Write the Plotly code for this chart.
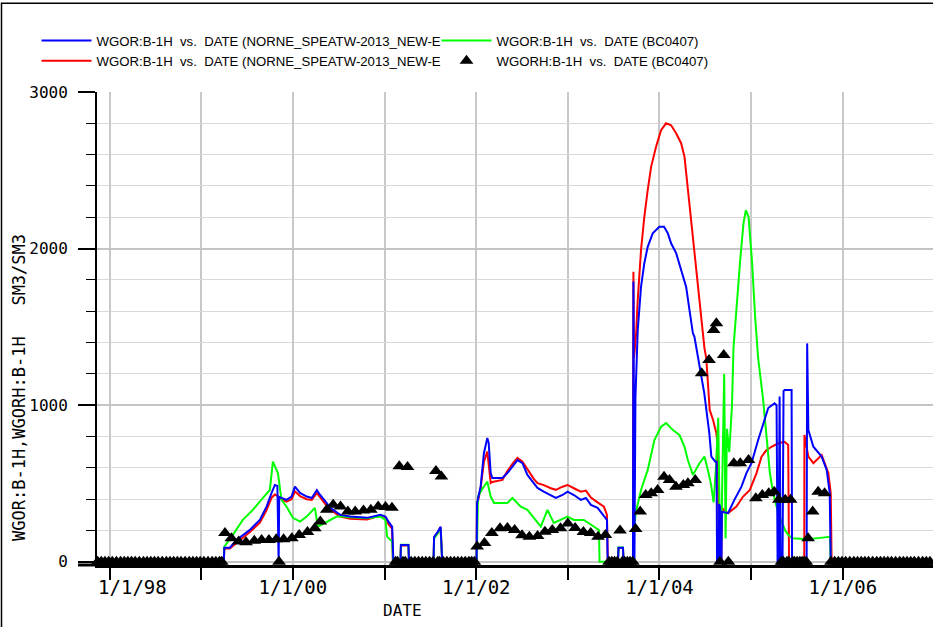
import datetime as dt
import plotly.graph_objects as go

# ---------------- data (decimal years, SM3/SM3) ----------------
SIM1_T = [1997.86, 1999.247, 1999.253, 1999.313, 1999.386, 1999.532, 1999.641, 1999.714, 1999.769, 1999.805,
          1999.832, 1999.838, 1999.846, 1999.852, 1999.877, 1999.932, 1999.987, 2000.024, 2000.079, 2000.152,
          2000.207, 2000.262, 2000.298, 2000.352, 2000.385, 2000.440, 2000.517, 2000.626, 2000.809, 2000.954,
          2001.009, 2001.042, 2001.082, 2001.096, 2001.173, 2001.178, 2001.260, 2001.266, 2001.534, 2001.540,
          2001.578, 2001.611, 2001.629, 2002.004, 2002.009, 2002.048, 2002.084, 2002.121, 2002.136, 2002.158,
          2002.176, 2002.286, 2002.340, 2002.395, 2002.450, 2002.505, 2002.559, 2002.628, 2002.669, 2002.737,
          2002.814, 2002.869, 2002.942, 2002.997, 2003.066, 2003.142, 2003.197, 2003.252, 2003.325, 2003.394,
          2003.427, 2003.435, 2003.547, 2003.553, 2003.602, 2003.608, 2003.711, 2003.716, 2003.727, 2003.738,
          2003.763, 2003.799, 2003.835, 2003.872, 2003.927, 2003.999, 2004.050, 2004.091, 2004.127, 2004.182,
          2004.236, 2004.291, 2004.324, 2004.364, 2004.381, 2004.436, 2004.488, 2004.543, 2004.565, 2004.609,
          2004.622, 2004.627, 2004.645, 2004.650, 2004.660, 2004.665, 2004.675, 2004.680, 2004.747, 2004.816,
          2004.893, 2004.947, 2005.002, 2005.075, 2005.130, 2005.185, 2005.254, 2005.276, 2005.287, 2005.298,
          2005.309, 2005.320, 2005.341, 2005.352, 2005.363, 2005.440, 2005.445, 2005.604, 2005.610, 2005.618,
          2005.623, 2005.678, 2005.768, 2005.823, 2005.856, 2005.867, 2007.0]
SIM1_V = [0, 0, 90, 90, 140, 204, 268, 353, 440, 491,
          485, 0, 0, 415, 408, 396, 417, 480, 440, 417,
          408, 459, 427, 385, 364, 332, 300, 289, 281, 300,
          289, 257, 225, 0, 0, 108, 108, 0, 0, 160,
          190, 225, 0, 0, 376, 480, 694, 791, 759, 567,
          535, 535, 567, 608, 650, 630, 555, 503, 472, 448,
          427, 408, 427, 448, 427, 396, 408, 364, 345, 289,
          268, 0, 0, 90, 90, 0, 0, 1790, 0, 1050,
          1480, 1756, 1907, 2011, 2098, 2139, 2139, 2098, 2034, 1971,
          1863, 1756, 1620, 1461, 1437, 1246, 1077, 822, 672, 640,
          640, 0, 0, 370, 350, 0, 0, 320, 311, 396,
          480, 567, 630, 778, 886, 982, 1013, 1000, 0, 0,
          1055, 0, 0, 1090, 1097, 1097, 0, 0, 1395, 900,
          842, 735, 672, 587, 440, 0, 0]

SIM2_T = [1997.86, 1999.247, 1999.253, 1999.313, 1999.386, 1999.532, 1999.641, 1999.714, 1999.769, 1999.805,
          1999.838, 1999.877, 1999.932, 1999.987, 2000.024, 2000.079, 2000.152, 2000.207, 2000.262, 2000.298,
          2000.352, 2000.385, 2000.440, 2000.517, 2000.626, 2000.809, 2000.954, 2001.009, 2001.042, 2001.082,
          2001.090, 2001.173, 2001.178, 2001.260, 2001.266, 2001.534, 2001.540, 2001.578, 2001.611, 2001.629,
          2002.004, 2002.009, 2002.048, 2002.084, 2002.121, 2002.158, 2002.176, 2002.286, 2002.340, 2002.395,
          2002.450, 2002.505, 2002.559, 2002.628, 2002.669, 2002.737, 2002.814, 2002.869, 2002.942, 2002.997,
          2003.066, 2003.142, 2003.197, 2003.252, 2003.325, 2003.394, 2003.427, 2003.437, 2003.547, 2003.553,
          2003.602, 2003.608, 2003.711, 2003.716, 2003.722, 2003.745, 2003.763, 2003.799, 2003.835, 2003.872,
          2003.909, 2003.963, 2004.018, 2004.072, 2004.127, 2004.182, 2004.236, 2004.273, 2004.302, 2004.327,
          2004.364, 2004.400, 2004.436, 2004.473, 2004.490, 2004.510, 2004.547, 2004.584, 2004.619, 2004.637,
          2004.645, 2004.674, 2004.680, 2004.747, 2004.838, 2004.911, 2004.984, 2005.057, 2005.112, 2005.166,
          2005.221, 2005.294, 2005.363, 2005.403, 2005.412, 2005.578, 2005.580, 2005.623, 2005.678, 2005.768,
          2005.841, 2005.867, 2005.877, 2007.0]
SIM2_V = [0, 0, 85, 85, 120, 190, 250, 330, 410, 430,
          420, 400, 385, 400, 450, 420, 400, 395, 440, 410,
          370, 350, 320, 290, 275, 270, 295, 285, 240, 210,
          0, 0, 105, 105, 0, 0, 155, 185, 220, 0,
          0, 360, 470, 640, 704, 503, 510, 523, 580, 625,
          664, 640, 590, 530, 503, 490, 470, 460, 480, 491,
          470, 448, 455, 410, 380, 353, 300, 0, 0, 88,
          88, 0, 0, 1852, 1300, 1450, 1671, 1990, 2203, 2373,
          2522, 2650, 2756, 2800, 2788, 2737, 2673, 2586, 2418, 2309,
          2098, 1884, 1671, 1461, 1365, 1300, 970, 906, 822, 735,
          0, 0, 343, 311, 353, 417, 459, 567, 672, 714,
          735, 757, 767, 746, 0, 0, 810, 672, 630, 682,
          567, 440, 0, 0]

SIM3_T = [1997.86, 1999.247, 1999.253, 1999.320, 1999.455, 1999.564, 1999.674, 1999.750, 1999.783, 1999.838,
          1999.877, 1999.932, 2000.001, 2000.079, 2000.152, 2000.241, 2000.273, 2000.350, 2000.478, 2000.550,
          2000.626, 2000.809, 2000.954, 2001.009, 2001.027, 2001.082, 2001.093, 2001.173, 2001.178, 2001.260,
          2001.266, 2001.534, 2001.540, 2001.578, 2001.611, 2001.629, 2002.004, 2002.020, 2002.059, 2002.121,
          2002.158, 2002.194, 2002.340, 2002.395, 2002.486, 2002.559, 2002.628, 2002.705, 2002.778, 2002.847,
          2002.997, 2003.066, 2003.175, 2003.285, 2003.340, 2003.346, 2003.547, 2003.553, 2003.602, 2003.608,
          2003.711, 2003.722, 2003.740, 2003.799, 2003.872, 2003.945, 2004.018, 2004.072, 2004.146, 2004.218,
          2004.273, 2004.309, 2004.364, 2004.436, 2004.490, 2004.527, 2004.560, 2004.590, 2004.615, 2004.640,
          2004.655, 2004.670, 2004.690, 2004.705, 2004.720, 2004.735, 2004.760, 2004.790, 2004.806, 2004.842,
          2004.879, 2004.915, 2004.941, 2004.970, 2005.007, 2005.042, 2005.075, 2005.130, 2005.166, 2005.203,
          2005.239, 2005.294, 2005.367, 2005.403, 2005.450, 2005.620, 2005.700, 2005.823, 2005.860, 2005.866,
          2007.0]
SIM3_V = [0, 0, 98, 150, 268, 332, 408, 459, 640, 567,
          396, 353, 281, 257, 289, 345, 225, 249, 289, 290,
          285, 278, 290, 268, 161, 130, 0, 0, 110, 110,
          0, 0, 150, 180, 215, 0, 0, 417, 459, 512,
          417, 376, 376, 408, 353, 332, 281, 225, 332, 249,
          289, 268, 268, 225, 204, 0, 0, 92, 92, 0,
          0, 185, 311, 459, 587, 778, 863, 886, 842, 810,
          735, 650, 555, 630, 672, 587, 500, 380, 600, 920,
          300, 50, 650, 1200, 150, 850, 700, 1000, 1365, 1671,
          1926, 2162, 2245, 2203, 1926, 1565, 1300, 1033, 822, 567,
          440, 311, 204, 172, 150, 145, 150, 161, 160, 0,
          0]

OBS_T = [1997.87, 1997.95, 1998.03, 1998.12, 1998.20, 1998.28, 1998.37, 1998.45, 1998.53, 1998.62,
         1998.70, 1998.78, 1998.87, 1998.95, 1999.03, 1999.12, 1999.20,
         1999.26, 1999.33, 1999.41, 1999.49, 1999.58, 1999.66, 1999.74, 1999.82, 1999.85, 1999.90,
         1999.99, 2000.07, 2000.16, 2000.24, 2000.30, 2000.37, 2000.44, 2000.52, 2000.60, 2000.68,
         2000.77, 2000.85, 2000.93, 2001.01, 2001.08,
         2001.12, 2001.16, 2001.20, 2001.25, 2001.29, 2001.37, 2001.45, 2001.53, 2001.56, 2001.60,
         2001.62, 2001.68, 2001.76, 2001.84, 2001.92, 2001.98,
         2002.01, 2002.09, 2002.17, 2002.26, 2002.34, 2002.42, 2002.50, 2002.58, 2002.67, 2002.75,
         2002.83, 2002.92, 2003.00, 2003.08, 2003.17, 2003.25, 2003.33, 2003.41,
         2003.45, 2003.51, 2003.57, 2003.62, 2003.68, 2003.74, 2003.79, 2003.85, 2003.91, 2003.98,
         2004.05, 2004.11, 2004.18, 2004.26, 2004.31, 2004.39, 2004.46, 2004.54, 2004.59, 2004.62,
         2004.66, 2004.70, 2004.75, 2004.81, 2004.88, 2004.97, 2005.05, 2005.12, 2005.19, 2005.25,
         2005.30, 2005.33, 2005.37, 2005.41, 2005.43, 2005.47, 2005.53, 2005.58, 2005.62, 2005.67,
         2005.73, 2005.80, 2005.87, 2005.95, 2006.03, 2006.12, 2006.20, 2006.28, 2006.37, 2006.45,
         2006.53, 2006.62, 2006.70, 2006.78, 2006.87, 2006.95]
OBS_V = [0, 0, 0, 0, 0, 0, 0, 0, 0, 0,
         0, 0, 0, 0, 0, 0, 0,
         185, 150, 130, 125, 135, 140, 140, 145, 0, 145,
         150, 172, 190, 215, 257, 332, 364, 353, 321, 321,
         328, 332, 353, 350, 345,
         0, 610, 0, 605, 0, 0, 0, 0, 580, 0,
         545, 0, 0, 0, 0, 0,
         98, 121, 185, 215, 217, 204, 170, 161, 165, 193,
         204, 215, 245, 217, 190, 185, 161, 172,
         0, 0, 200, 0, 0, 210, 321, 427, 438, 459,
         544, 523, 480, 491, 502, 523, 1204, 1289, 1480, 1523,
         0, 1321, 0, 630, 630, 650, 406, 427, 438, 448,
         396, 0, 396, 0, 396, 0, 0, 0, 151, 321,
         448, 438, 0, 0, 0, 0, 0, 0, 0, 0,
         0, 0, 0, 0, 0, 0]
# additional observation dates at which the observed ratio is zero (dense band on the axis)
OBS_ZERO_T = [1997.91, 1997.99, 1998.075, 1998.16, 1998.24, 1998.325, 1998.41, 1998.49, 1998.575, 1998.66,
              1998.74, 1998.825, 1998.91, 1998.99, 1999.075, 1999.16, 1999.225,
              2001.14, 2001.225, 2001.33, 2001.41, 2001.49, 2001.58, 2001.64, 2001.72, 2001.80, 2001.88, 2001.95,
              2003.48, 2003.54, 2003.595, 2003.65, 2003.71,
              2005.35, 2005.39, 2005.45, 2005.50, 2005.555, 2005.60,
              2005.91, 2005.99, 2006.075, 2006.16, 2006.24, 2006.325, 2006.41, 2006.49, 2006.575, 2006.66,
              2006.74, 2006.825, 2006.91, 2006.99]
OBS_ZERO_V = [0, 0, 0, 0, 0, 0, 0, 0, 0, 0,
              0, 0, 0, 0, 0, 0, 0,
              0, 0, 0, 0, 0, 0, 0, 0, 0, 0, 0,
              0, 0, 0, 0, 0,
              0, 0, 0, 0, 0, 0,
              0, 0, 0, 0, 0, 0, 0, 0, 0, 0,
              0, 0, 0, 0]

NAME_SIM1 = "WGOR:B-1H\u00a0\u00a0vs.\u00a0\u00a0DATE (NORNE_SPEATW-2013_NEW-E"
NAME_SIM2 = "WGOR:B-1H\u00a0\u00a0vs.\u00a0\u00a0DATE (NORNE_SPEATW-2013_NEW-E"
NAME_SIM3 = "WGOR:B-1H\u00a0\u00a0vs.\u00a0\u00a0DATE (BC0407)"
NAME_OBS = "WGORH:B-1H\u00a0\u00a0vs.\u00a0\u00a0DATE (BC0407)"
Y_TITLE = "WGOR:B-1H,WGORH:B-1H\u00a0\u00a0\u00a0SM3/SM3"
X_TITLE = "DATE"
X_TICK_VALS = ["1998-01-01", "2000-01-01", "2002-01-01", "2004-01-01", "2006-01-01"]
X_TICK_TEXT = ["\u00a0\u00a0\u00a0\u00a01/1/98", "1/1/00", "1/1/02", "1/1/04", "1/1/06"]
X_RANGE = ["1997-11-12", "2006-12-26"]
Y_RANGE = [-20, 3000]


def to_date(y):
    yr = int(y)
    start = dt.datetime(yr, 1, 1)
    end = dt.datetime(yr + 1, 1, 1)
    return start + (end - start) * (y - yr)


def dates(ts):
    return [to_date(t) for t in ts]


obs_pairs = sorted(zip(OBS_T + OBS_ZERO_T, OBS_V + OBS_ZERO_V))
obs_t = [p[0] for p in obs_pairs]
obs_v = [p[1] for p in obs_pairs]

fig = go.Figure()
fig.add_trace(go.Scatter(x=dates(SIM2_T), y=SIM2_V, mode="lines", name=NAME_SIM2,
                         line=dict(color="#ff0000", width=2), legendrank=3))
fig.add_trace(go.Scatter(x=dates(SIM3_T), y=SIM3_V, mode="lines", name=NAME_SIM3,
                         line=dict(color="#00ff00", width=2), legendrank=2))
fig.add_trace(go.Scatter(x=dates(SIM1_T), y=SIM1_V, mode="lines", name=NAME_SIM1,
                         line=dict(color="#0000ff", width=2), legendrank=1))
fig.add_trace(go.Scatter(x=dates(obs_t), y=obs_v, mode="markers", name=NAME_OBS,
                         marker=dict(symbol="triangle-up", size=12, color="black"),
                         cliponaxis=False, legendrank=4))

W, H = 933, 627
ML, MR, MT, MB = 97, 0, 92, 62
PW, PH = W - ML - MR, H - MT - MB


def px_x(p):
    return (p - ML) / PW


def px_y(p):
    return (H - MB - p) / PH


mono = "DejaVu Sans Mono"
fig.update_layout(
    width=W, height=H, autosize=False,
    margin=dict(l=ML, r=MR, t=MT, b=MB, pad=0, autoexpand=False),
    paper_bgcolor="white", plot_bgcolor="white",
    showlegend=True,
    legend=dict(orientation="h", x=px_x(36.5), xanchor="left", y=px_y(51), yanchor="middle",
                entrywidth=335, entrywidthmode="pixels", itemwidth=50,
                font=dict(family="Liberation Sans, Arial", size=13.2, color="black"),
                bgcolor="rgba(0,0,0,0)", traceorder="normal"),
    xaxis=dict(type="date", range=X_RANGE, tickmode="array", tickvals=X_TICK_VALS, ticktext=X_TICK_TEXT,
               ticks="outside", ticklen=12, tickwidth=2, tickcolor="black",
               showgrid=True, gridcolor="#c8c8c8", gridwidth=2,
               minor=dict(dtick="M12", tick0="1998-01-01", ticks="outside", ticklen=12, tickwidth=2,
                          tickcolor="black", showgrid=True, gridcolor="#c8c8c8", gridwidth=2),
               showline=True, linecolor="black", linewidth=3, zeroline=False,
               ticklabelstandoff=-9,
               tickfont=dict(family=mono, size=19, color="black")),
    yaxis=dict(range=Y_RANGE, dtick=1000, tick0=0, ticks="outside", ticklen=17, tickwidth=2,
               tickcolor="black", showgrid=True, gridcolor="#c4c4c4", gridwidth=2,
               minor=dict(dtick=200, tick0=0, ticks="outside", ticklen=9, tickwidth=1,
                          tickcolor="black", showgrid=True, gridcolor="#d9d9d9", gridwidth=1),
               showline=True, linecolor="black", linewidth=2, zeroline=False,
               ticklabelstandoff=7,
               tickfont=dict(family=mono, size=16, color="black")),
    annotations=[
        dict(text=X_TITLE, xref="paper", yref="paper", x=px_x(402), y=px_y(610),
             xanchor="center", yanchor="middle",
             showarrow=False, font=dict(family=mono, size=16, color="black")),
        dict(text=Y_TITLE, xref="paper", yref="paper", x=px_x(19), y=px_y(388), textangle=-90,
             xanchor="center", yanchor="middle",
             showarrow=False, font=dict(family=mono, size=17, color="black")),
    ],
    shapes=[
        dict(type="rect", xref="paper", yref="paper", x0=px_x(1.5), x1=px_x(945),
             y0=px_y(640), y1=px_y(3.3), line=dict(color="black", width=1.5), layer="above"),
        dict(type="line", xref="paper", yref="paper", x0=px_x(78), x1=0, y0=0, y1=0,
             line=dict(color="black", width=3)),
    ],
)

fig.write_html("out.html", config={"displayModeBar": False},
               post_script="document.body.style.margin='0';")
